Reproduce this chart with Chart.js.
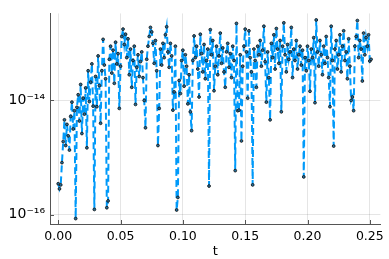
<!DOCTYPE html>
<html>
<head>
<meta charset="utf-8">
<script src="https://cdn.jsdelivr.net/npm/chart.js@4/dist/chart.umd.min.js"></script>
<style>
  html, body { margin: 0; padding: 0; background: #fff; }
  #wrap { width: 389px; height: 259px; }
</style>
</head>
<body>
<div id="wrap"><canvas id="chart"></canvas></div>
<script>
// time step of the series and log10 of the plotted values
const tStep = 0.001;
const logValues = [
  -15.46, -15.55, -15.48, -15.09, -14.72, -14.34, -14.79, -14.42, -14.62, -14.87,
  -14.28, -14.03, -14.50, -14.18, -16.07, -14.12, -13.90, -14.36, -13.72, -14.58,
  -13.96, -14.24, -13.78, -14.83, -13.48, -14.02, -13.68, -13.36, -14.10, -15.91,
  -13.58, -14.11, -13.22, -13.74, -14.40, -13.48, -12.93, -13.38, -13.62, -15.88,
  -15.76, -13.28, -13.05, -13.52, -13.12, -13.70, -12.98, -13.36, -13.18, -14.14,
  -13.40, -12.88, -12.75, -13.02, -12.84, -13.25, -12.92, -13.55, -13.10, -13.77,
  -13.30, -13.05, -14.07, -13.42, -13.20, -13.58, -13.32, -13.15, -13.60, -14.00,
  -14.48, -13.28, -13.05, -12.88, -12.72, -12.80, -13.00, -13.35, -12.95, -13.48,
  -14.79, -14.14, -13.10, -13.38, -13.00, -13.25, -12.85, -12.71, -13.15, -13.42,
  -13.00, -13.22, -14.17, -13.85, -13.05, -15.92, -15.70, -13.65, -13.88, -13.30,
  -13.12, -13.75, -13.20, -13.40, -14.06, -13.55, -14.20, -14.53, -13.30, -12.87,
  -13.25, -13.05, -13.45, -13.94, -12.84, -13.18, -13.50, -13.02, -13.62, -13.30,
  -13.10, -15.50, -12.76, -13.20, -12.95, -13.83, -13.40, -13.05, -13.55, -13.22,
  -12.82, -13.35, -13.08, -13.50, -13.77, -13.15, -13.00, -13.42, -13.18, -13.60,
  -13.05, -13.30, -15.23, -12.65, -14.18, -14.17, -13.20, -14.71, -13.40, -13.05,
  -12.75, -13.15, -13.96, -12.78, -13.25, -13.50, -15.48, -13.10, -13.30, -13.77,
  -13.05, -13.20, -12.95, -13.40, -13.12, -12.70, -13.32, -14.03, -13.15, -13.60,
  -14.34, -13.00, -13.25, -12.85, -13.45, -12.74, -13.10, -13.35, -12.95, -14.20,
  -13.05, -12.64, -13.20, -13.50, -13.02, -13.28, -13.15, -12.72, -13.60, -13.10,
  -13.30, -12.95, -13.45, -13.20, -13.05, -13.38, -13.12, -15.34, -13.25, -13.48,
  -13.05, -13.30, -13.84, -13.10, -13.25, -12.90, -14.04, -12.59, -13.15, -13.40,
  -12.95, -13.20, -13.55, -13.05, -13.35, -12.88, -13.25, -13.60, -14.11, -12.70,
  -13.30, -14.80, -13.10, -12.95, -13.45, -13.20, -12.85, -13.50, -13.05, -12.78,
  -13.30, -13.15, -13.62, -12.92, -13.40, -14.00, -13.94, -14.18, -13.05, -12.88,
  -12.60, -13.25, -12.95, -13.10, -13.66, -12.82, -13.20, -12.90, -13.05, -12.85,
  -13.31, -13.28
];
const xTicks = [0, 0.05, 0.10, 0.15, 0.20, 0.25];
const yTicks = [1e-16, 1e-14];
const yTickLabels = ['10\u207B\u00B9\u2076', '10\u207B\u00B9\u2074'];

const points = logValues.map((v, i) => ({ x: i * tStep, y: Math.pow(10, v) }));

const lineBlue = '#009AFA';
const axisGray = '#555';

// small inward tick marks like the original plot
const innerTicks = {
  id: 'innerTicks',
  afterDraw(chart) {
    const ctx = chart.ctx;
    const xs = chart.scales.x, ys = chart.scales.y;
    const a = chart.chartArea;
    ctx.save();
    ctx.strokeStyle = axisGray;
    ctx.lineWidth = 1;
    ctx.beginPath();
    xTicks.forEach(t => {
      const px = Math.round(xs.getPixelForValue(t)) + 0.5;
      ctx.moveTo(px, a.bottom);
      ctx.lineTo(px, a.bottom - 4);
    });
    yTicks.forEach(t => {
      const py = Math.round(ys.getPixelForValue(t)) + 0.5;
      ctx.moveTo(a.left, py);
      ctx.lineTo(a.left + 4, py);
    });
    ctx.stroke();
    ctx.restore();
  }
};

new Chart(document.getElementById('chart'), {
  type: 'line',
  data: {
    datasets: [{
      data: points,
      borderColor: lineBlue,
      borderWidth: 2,
      borderDash: [7, 4],
      pointRadius: 1.4,
      pointBackgroundColor: '#1f6f9f',
      pointBorderColor: '#1a1a1a',
      pointBorderWidth: 0.9,
      tension: 0
    }]
  },
  options: {
    responsive: true,
    maintainAspectRatio: false,
    animation: false,
    layout: { padding: { left: 0, right: 8, top: 7, bottom: 0 } },
    plugins: { legend: { display: false }, tooltip: { enabled: false } },
    scales: {
      x: {
        type: 'linear',
        min: -0.0066,
        max: 0.2585,
        afterBuildTicks: s => { s.ticks = xTicks.map(v => ({ value: v })); },
        afterFit: s => { s.height = 35; },
        ticks: {
          callback: v => Number(v).toFixed(2),
          color: '#000',
          font: { family: 'DejaVu Sans', size: 12.5 },
          padding: 5,
          maxRotation: 0
        },
        grid: { color: 'rgba(0,0,0,0.1)', tickLength: 0 },
        border: { display: true, color: axisGray, width: 1 },
        title: {
          display: true,
          text: 't',
          color: '#000',
          font: { family: 'DejaVu Sans', size: 13 },
          padding: { top: 0, bottom: 0 }
        }
      },
      y: {
        type: 'logarithmic',
        min: Math.pow(10, -16.165),
        max: Math.pow(10, -12.475),
        afterBuildTicks: s => { s.ticks = yTicks.map(v => ({ value: v })); },
        afterFit: s => { s.width = 50; },
        ticks: {
          callback: (v, i) => yTickLabels[i],
          color: '#000',
          font: { family: 'DejaVu Sans', size: 14 },
          padding: 5
        },
        grid: { color: 'rgba(0,0,0,0.1)', tickLength: 0 },
        border: { display: true, color: axisGray, width: 1 }
      }
    }
  },
  plugins: [innerTicks]
});
</script>
</body>
</html>
